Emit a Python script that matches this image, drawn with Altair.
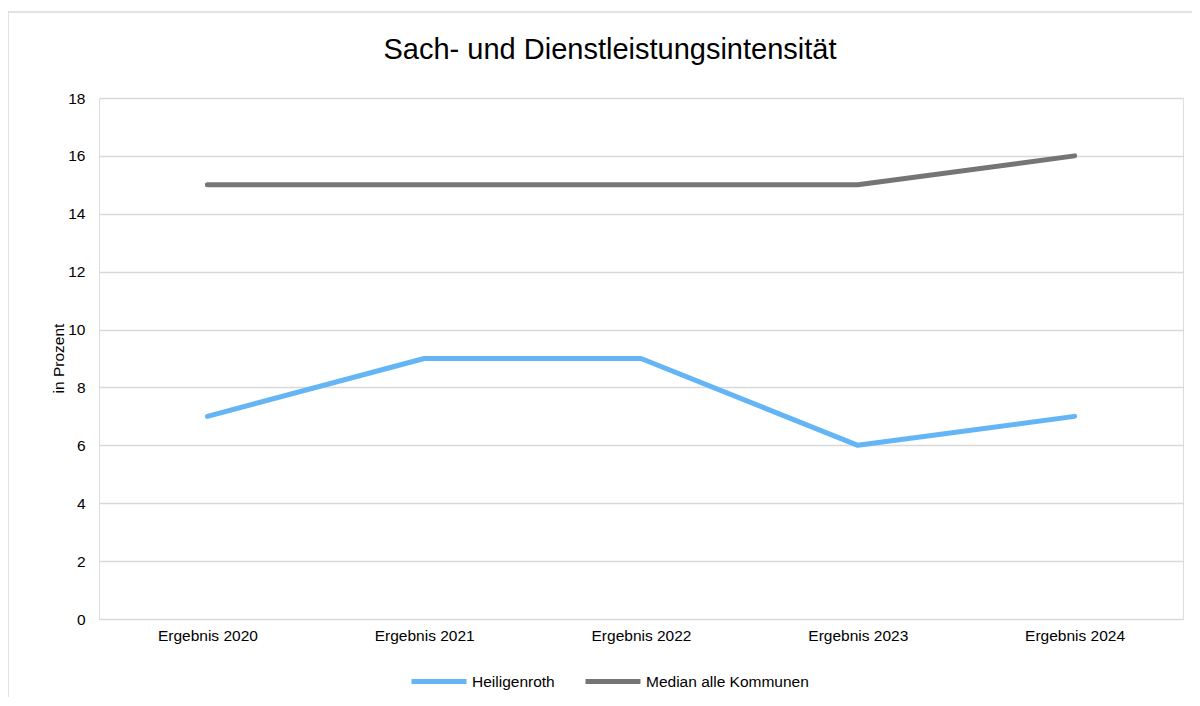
import altair as alt
import pandas as pd

categories = ["Ergebnis 2020", "Ergebnis 2021", "Ergebnis 2022", "Ergebnis 2023", "Ergebnis 2024"]
series_names = ["Heiligenroth", "Median alle Kommunen"]
heiligenroth = [7, 9, 9, 6, 7]
median_alle = [15, 15, 15, 15, 16]
colors = ["#64b5f6", "#757575"]
y_ticks = [0, 2, 4, 6, 8, 10, 12, 14, 16, 18]

rows = []
for name, vals in zip(series_names, [heiligenroth, median_alle]):
    for c, v in zip(categories, vals):
        rows.append({"Kategorie": c, "Wert": v, "Reihe": name})
df = pd.DataFrame(rows)

FONT = "Liberation Sans, Arial, sans-serif"
W, H = 1084, 521

lines = alt.Chart(df).mark_line(strokeWidth=5, strokeCap="round", strokeJoin="round").encode(
    x=alt.X("Kategorie:N", sort=categories, scale=alt.Scale(type="point", padding=0.5),
            axis=alt.Axis(title=None, labelAngle=0, labelFontSize=15.5, labelColor="#000000",
                          labelPadding=9, domain=False, ticks=False, grid=False, labelFont=FONT)),
    y=alt.Y("Wert:Q", scale=alt.Scale(domain=[0, 18], nice=False),
            axis=alt.Axis(title="in Prozent", values=y_ticks, labelFontSize=15.5, labelColor="#000000",
                          labelPadding=14, domain=False, ticks=False, grid=True, gridColor="#d9d9d9",
                          gridWidth=1.5, titleFontSize=15.5, titleFontWeight="normal", titleColor="#000000",
                          titleAngle=270, titleX=-36, titleY=260, titleAlign="center",
                          titleBaseline="alphabetic", labelFont=FONT, titleFont=FONT)),
    color=alt.Color("Reihe:N", sort=series_names,
                    scale=alt.Scale(domain=series_names, range=colors),
                    legend=alt.Legend(title=None, orient="none", direction="horizontal",
                                      legendX=310, legendY=553.5, symbolType="stroke",
                                      symbolSize=3025, symbolStrokeWidth=5, labelOffset=3,
                                      columnPadding=20, labelFontSize=15.5, labelColor="#000000",
                                      labelFont=FONT, padding=0, labelLimit=400)),
)

frame_df = pd.DataFrame({"f": [0]})
frame = alt.Chart(frame_df).mark_rect(filled=False, stroke="#d9d9d9", strokeWidth=1.5, clip=False).encode(
    x=alt.value(-91), x2=alt.value(1400), y=alt.value(-86), y2=alt.value(900)
)

chart = alt.layer(frame, lines).properties(
    width=W, height=H,
    title=alt.Title("Sach- und Dienstleistungsintensität", fontSize=29, font=FONT,
                    fontWeight="normal", color="#000000", anchor="middle", dx=-31,
                    baseline="alphabetic", offset=-77),
    autosize=alt.AutoSizeParams(type="none"),
    padding={"left": 91, "top": 90, "right": 9, "bottom": 78},
).configure_view(stroke=None).configure(background="white")

chart.save("out.html", embed_options={"renderer": "svg", "actions": False})
